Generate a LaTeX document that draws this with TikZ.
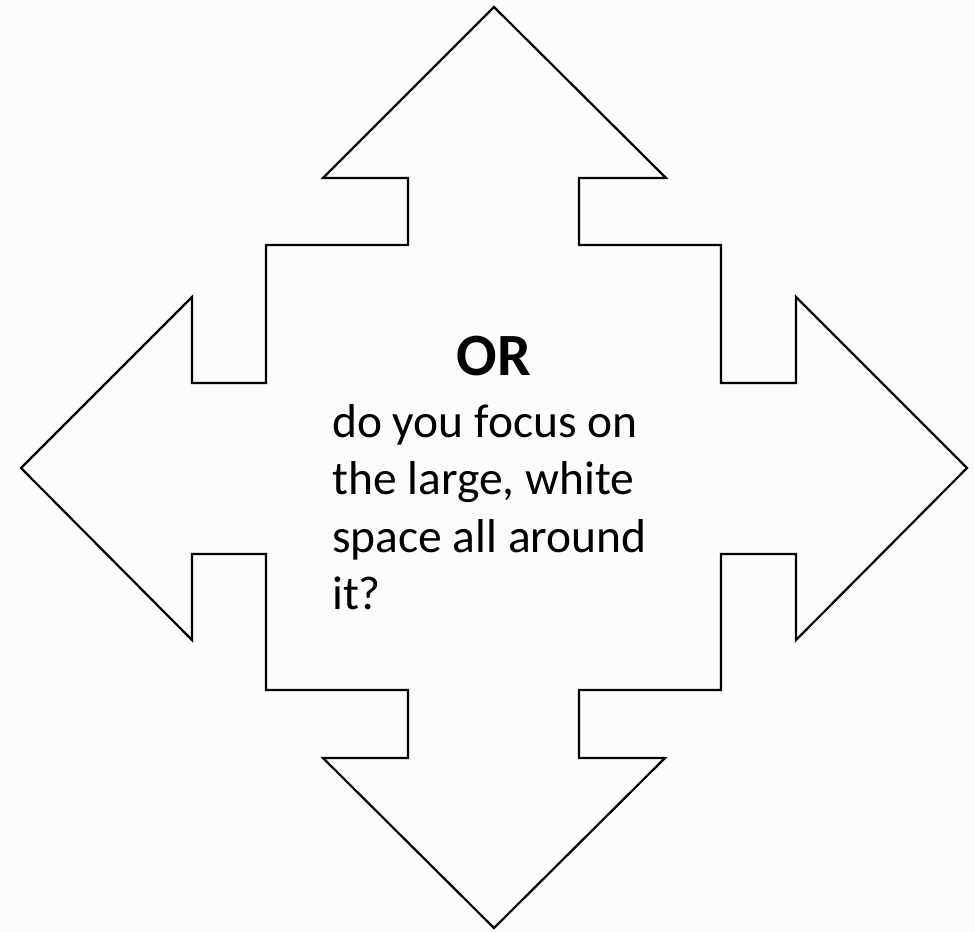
\documentclass[tikz,border=0pt]{standalone}
\usepackage{fontspec}
\setmainfont{Carlito}
\definecolor{bgc}{RGB}{252,252,252}
\begin{document}
\begin{tikzpicture}[x=1pt,y=-1pt,
  outline/.style={draw=black,line width=2.2pt,line join=miter,fill=bgc},
  body/.style={anchor=base west,inner sep=0pt,font=\fontsize{47.5}{57.3}\selectfont},
  title/.style={anchor=base,inner sep=0pt,font=\fontsize{60}{62}\selectfont\bfseries}]
\fill[bgc] (0,0) rectangle (975,932);
\useasboundingbox (0,0) rectangle (975,932);
\draw[outline] (494,7) -- (666,178) -- (579,178) -- (579,245) -- (721,245) -- (721,383)
  -- (796,383) -- (796,297) -- (967,468) -- (796,640) -- (796,554) -- (721,554)
  -- (721,690) -- (579,690) -- (579,758) -- (665,758) -- (494,928) -- (323,758)
  -- (408,758) -- (408,690) -- (266,690) -- (266,554) -- (192,554) -- (192,640)
  -- (21,468) -- (192,297) -- (192,383) -- (266,383) -- (266,245) -- (408,245)
  -- (408,178) -- (323,178) -- cycle;
\node[title] (or) at (494,375) {OR};
\node[body] (l1) at (332,437) {do you focus on};
\node[body] (l2) at (332,494) {the large, white};
\node[body] (l3) at (332,552) {space all around};
\node[body] (l4) at (332,609) {it?};
\end{tikzpicture}
\end{document}
